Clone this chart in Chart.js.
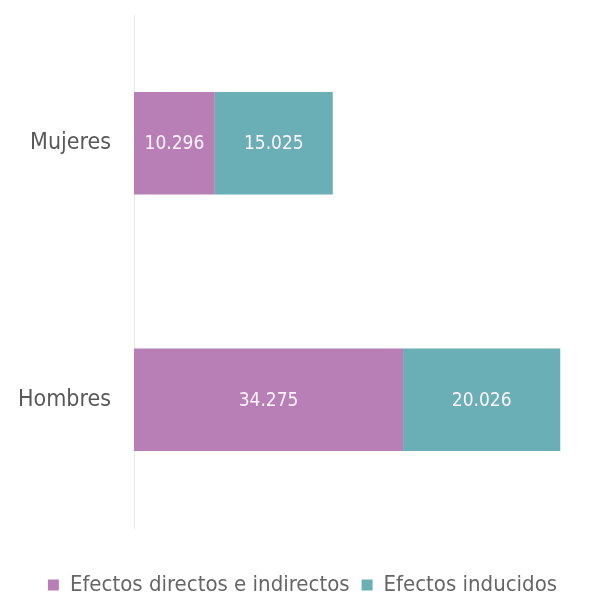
<!DOCTYPE html>
<html>
<head>
<meta charset="utf-8">
<script src="https://cdn.jsdelivr.net/npm/chart.js@4"></script>
<style>
html,body{margin:0;padding:0;background:#fff;}
#wrap{width:605px;height:594px;position:relative;}
</style>
</head>
<body>
<div id="wrap"><canvas id="c"></canvas></div>
<script>
const categories = ['Mujeres', 'Hombres'];
const seriesNames = ['Efectos directos e indirectos', 'Efectos inducidos'];
const directos = [10296, 34275];
const inducidos = [15025, 20026];

const FONT = "'DejaVu Sans Condensed', 'DejaVu Sans', sans-serif";

function fmt(v) {
  return String(v).replace(/\B(?=(\d{3})+(?!\d))/g, '.');
}

const valueLabels = {
  id: 'valueLabels',
  afterDatasetsDraw(chart) {
    const ctx = chart.ctx;
    ctx.save();
    ctx.font = '19px ' + FONT;
    ctx.fillStyle = '#fdf3fb';
    ctx.textAlign = 'center';
    ctx.textBaseline = 'middle';
    chart.data.datasets.forEach((ds, i) => {
      const meta = chart.getDatasetMeta(i);
      meta.data.forEach((el, j) => {
        const x = (el.x + el.base) / 2;
        ctx.fillText(fmt(ds.data[j]), x, el.y + 1);
      });
    });
    ctx.restore();
  }
};

const legendFit = {
  id: 'legendFit',
  beforeLayout(chart) {
    const lg = chart.legend;
    if (lg && !lg._patched) {
      const orig = lg.fit;
      lg.fit = function () { orig.call(this); this.height -= 12; };
      lg._patched = true;
    }
  }
};

new Chart(document.getElementById('c'), {
  type: 'bar',
  data: {
    labels: categories,
    datasets: [
      { label: seriesNames[0], data: directos, backgroundColor: '#b77fb5', borderWidth: 0 },
      { label: seriesNames[1], data: inducidos, backgroundColor: '#6aaeb6', borderWidth: 0 }
    ]
  },
  options: {
    indexAxis: 'y',
    responsive: true,
    maintainAspectRatio: false,
    animation: false,
    layout: { padding: { top: 15, left: 0, right: 0, bottom: 0 } },
    datasets: { bar: { barPercentage: 0.4, categoryPercentage: 1.0 } },
    scales: {
      x: {
        stacked: true,
        min: 0,
        max: 60000,
        display: true,
        grid: { display: false },
        border: { display: false },
        ticks: { display: false },
        afterFit(scale) { scale.height = 34; scale.paddingLeft = 0; scale.paddingRight = 0; }
      },
      y: {
        stacked: true,
        grid: { display: false, drawTicks: false },
        border: { display: true, color: '#e6e6e6', width: 1 },
        ticks: { color: '#595959', padding: 23, font: { family: FONT, size: 23 } },
        afterFit(scale) { scale.width = 134; scale.paddingTop = 0; scale.paddingBottom = 0; }
      }
    },
    plugins: {
      legend: {
        position: 'bottom',
        labels: {
          color: '#666666',
          boxWidth: 11,
          boxHeight: 11,
          padding: 12,
          font: { family: FONT, size: 22 }
        }
      },
      tooltip: { enabled: false }
    }
  },
  plugins: [valueLabels, legendFit]
});
</script>
</body>
</html>
